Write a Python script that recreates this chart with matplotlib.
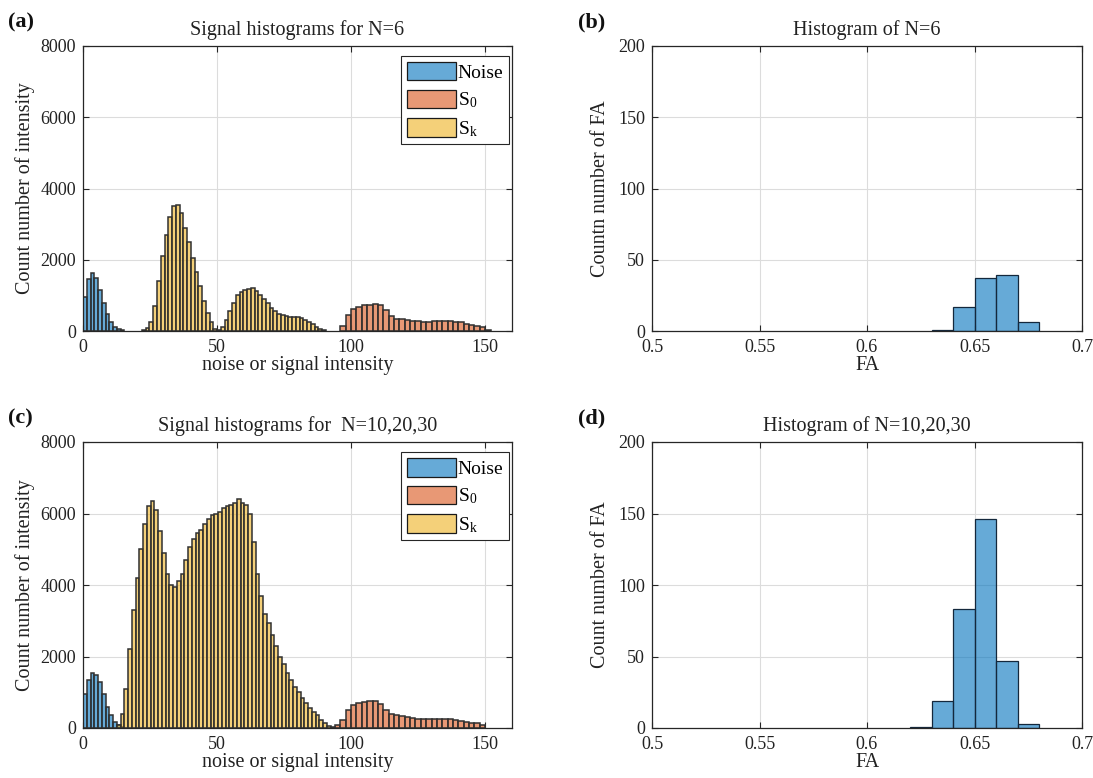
import numpy as np
import matplotlib
matplotlib.use("Agg")
import matplotlib.pyplot as plt
from matplotlib.patches import Patch

plt.rcParams['font.family'] = ['Liberation Serif', 'DejaVu Serif']
plt.rcParams['mathtext.fontset'] = 'custom'
plt.rcParams['mathtext.rm'] = 'Liberation Serif'
plt.rcParams['mathtext.it'] = 'Liberation Serif'

# ---- histogram data: bin start, bin width and counts per bin ----
# N = 6
noise_a_start, noise_a_width = 0.0, 1.4
noise_a = [950, 1450, 1620, 1500, 1150, 800, 480, 260, 120, 50, 15]

sk_a_start, sk_a_width = 22.0, 1.4
sk_a = [20, 80, 250, 700, 1400, 2100, 2700, 3200, 3500, 3550, 3300, 2900,
        2500, 2050, 1650, 1250, 850, 500, 250, 60, 30, 120, 300, 550, 800,
        1000, 1100, 1150, 1170, 1200, 1130, 1020, 900, 780, 650, 560, 490,
        440, 410, 400, 400, 390, 370, 320, 260, 190, 120, 60, 20]

s0_a_start, s0_a_width = 96.0, 2.0
s0_a = [150, 450, 620, 680, 720, 740, 760, 720, 600, 420, 340, 330, 310,
        290, 270, 260, 260, 270, 280, 290, 280, 260, 240, 200, 160, 130,
        100, 40]

# N = 10, 20, 30
noise_c_start, noise_c_width = 0.0, 1.4
noise_c = [950, 1350, 1550, 1480, 1280, 950, 600, 350, 180, 80, 30]

sk_c_start, sk_c_width = 12.6, 1.4
sk_c = [80, 400, 1100, 2200, 3300, 4200, 5000, 5700, 6200, 6350, 6100,
        5500, 4900, 4300, 4000, 3950, 4100, 4300, 4700, 5050, 5300, 5450,
        5550, 5700, 5850, 5950, 6000, 6050, 6150, 6200, 6250, 6300, 6400,
        6300, 6250, 6000, 5200, 4300, 3700, 3200, 2950, 2600, 2300, 2000,
        1800, 1550, 1350, 1150, 1000, 850, 700, 550, 450, 350, 230, 130,
        60, 15]

s0_c_start, s0_c_width = 94.0, 2.0
s0_c = [80, 230, 500, 640, 700, 730, 750, 760, 670, 500, 390, 350, 330,
        310, 270, 250, 240, 240, 250, 260, 260, 250, 230, 200, 170, 150,
        140, 90]

# FA histograms
fa_b_edges = [0.63, 0.64, 0.65, 0.66, 0.67, 0.68]
fa_b_counts = [1, 17, 37, 39, 6]
fa_d_edges = [0.62, 0.63, 0.64, 0.65, 0.66, 0.67, 0.68]
fa_d_counts = [1, 19, 83, 146, 47, 3]

legend_labels = ['Noise', r'S$_0$', r'S$_\mathrm{k}$']

# ---- colours (MATLAB default order with 0.6 face alpha) ----
c_noise = np.array([0.0, 0.447, 0.741])
c_s0 = np.array([0.850, 0.325, 0.098])
c_sk = np.array([0.929, 0.694, 0.125])
ALPHA = 0.6
AX_COL = '#262626'
GRID_COL = '#dcdcdc'
TXT = '#222222'

W, H = 1093, 778
fig = plt.figure(figsize=(W / 100, H / 100), dpi=100)


def px_axes(x0, y0, x1, y1):
    return fig.add_axes([x0 / W, 1 - y1 / H, (x1 - x0) / W, (y1 - y0) / H])


def style(ax):
    ax.grid(True, color=GRID_COL, linewidth=0.8)
    ax.set_axisbelow(True)
    for s in ax.spines.values():
        s.set_color(AX_COL)
        s.set_linewidth(0.9)
    ax.tick_params(direction='in', top=True, right=True, length=4,
                   width=0.8, color=AX_COL, labelsize=13,
                   labelcolor=TXT)
    ax.tick_params(axis='x', pad=6)
    ax.tick_params(axis='y', pad=5)


def hist_bars(ax, start, width, counts, color):
    counts = np.asarray(counts, dtype=float)
    lefts = start + width * np.arange(len(counts))
    ax.bar(lefts, counts, width=width, align='edge',
           color=(*color, ALPHA), edgecolor='#303030', linewidth=1.1)


def signal_panel(ax, noise, s0, sk, title):
    style(ax)
    hist_bars(ax, *noise, c_noise)
    hist_bars(ax, *s0, c_s0)
    hist_bars(ax, *sk, c_sk)
    ax.set_xlim(0, 160)
    ax.set_ylim(0, 8000)
    ax.set_xticks([0, 50, 100, 150])
    ax.set_yticks([0, 2000, 4000, 6000, 8000])
    ax.set_title(title, fontsize=14.5, pad=8, color=TXT)
    ax.set_xlabel('noise or signal intensity', fontsize=14.5, labelpad=0,
                  color=TXT)
    ax.set_ylabel('Count number of intensity', fontsize=14.5, labelpad=4,
                  color=TXT)
    handles = [Patch(facecolor=(*c, ALPHA), edgecolor='#1a1a1a', linewidth=0.9)
               for c in (c_noise, c_s0, c_sk)]
    leg = ax.legend(handles, legend_labels, loc='upper right',
                    bbox_to_anchor=(0.993, 0.965), fontsize=14,
                    handlelength=2.5, handleheight=1.1, handletextpad=0.1,
                    labelspacing=0.4, borderpad=0.3, borderaxespad=0.0,
                    fancybox=False, framealpha=1)
    leg.get_frame().set_edgecolor(AX_COL)
    leg.get_frame().set_linewidth(0.8)


def fa_panel(ax, edges, counts, title, ylabel):
    style(ax)
    edges = np.asarray(edges)
    ax.bar(edges[:-1], counts, width=np.diff(edges), align='edge',
           color=(*c_noise, ALPHA), edgecolor='#14283c', linewidth=0.9)
    ax.set_xlim(0.5, 0.7)
    ax.set_ylim(0, 200)
    ax.set_xticks([0.5, 0.55, 0.6, 0.65, 0.7])
    ax.set_xticklabels(['0.5', '0.55', '0.6', '0.65', '0.7'])
    ax.set_yticks([0, 50, 100, 150, 200])
    ax.set_title(title, fontsize=14.5, pad=8, color=TXT)
    ax.set_xlabel('FA', fontsize=14.5, labelpad=0, color=TXT)
    ax.set_ylabel(ylabel, fontsize=14.5, labelpad=6, color=TXT)


ax_a = px_axes(83, 46, 512, 331)
signal_panel(ax_a, (noise_a_start, noise_a_width, noise_a),
             (s0_a_start, s0_a_width, s0_a),
             (sk_a_start, sk_a_width, sk_a),
             'Signal histograms for N=6')

ax_b = px_axes(652, 46, 1082, 331)
fa_panel(ax_b, fa_b_edges, fa_b_counts, 'Histogram of N=6',
         'Countn number of FA')

ax_c = px_axes(83, 442, 512, 728)
signal_panel(ax_c, (noise_c_start, noise_c_width, noise_c),
             (s0_c_start, s0_c_width, s0_c),
             (sk_c_start, sk_c_width, sk_c),
             'Signal histograms for  N=10,20,30')

ax_d = px_axes(652, 442, 1082, 728)
fa_panel(ax_d, fa_d_edges, fa_d_counts, 'Histogram of N=10,20,30',
         'Count number of FA')

for lab, x, y in [('(a)', 8, 22), ('(b)', 578, 22),
                  ('(c)', 8, 418), ('(d)', 578, 418)]:
    fig.text(x / W, 1 - y / H, lab, fontsize=16, fontweight='bold',
             ha='left', va='center', color='#111111')

fig.savefig('out.png', dpi=100)
